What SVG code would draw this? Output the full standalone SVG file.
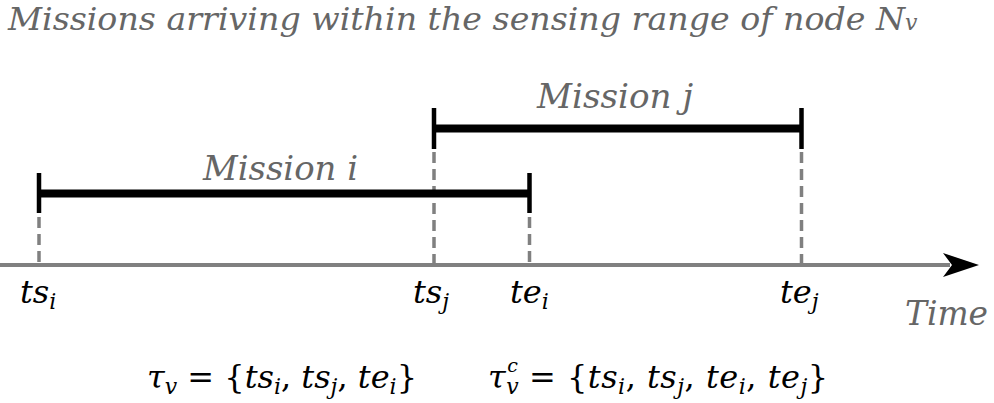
<svg xmlns="http://www.w3.org/2000/svg" width="994" height="403" viewBox="0 0 994 403">
<style>
.lbl{font-family:'DejaVu Serif','Liberation Serif','Noto Serif',serif;font-style:italic;fill:#666666}
.math{font-family:'DejaVu Serif','Liberation Serif','Noto Serif',serif;font-style:italic;fill:#000;font-size:32px}
.rm{font-style:normal}
.sub{font-size:22px}
.sup{font-size:19px}
.bar{stroke:#000;stroke-width:8;fill:none}
.tick{stroke:#000;stroke-width:4.5;fill:none}
.dash{stroke:#808080;stroke-width:3.5;stroke-dasharray:11,6;fill:none}
.axis{stroke:#808080;stroke-width:4;fill:none}
</style>
<rect width="994" height="403" fill="#fff"/>
<text class="lbl" x="8" y="30" font-size="32" textLength="897" lengthAdjust="spacingAndGlyphs">Missions arriving within the sensing range of node N</text>
<text class="lbl" x="905" y="30" font-size="22">v</text>

<g id="connectors">
<line class="axis" x1="0" y1="265" x2="950" y2="265"/>
<path d="M979,265 L943,253 L952,265 L943,277 Z" fill="#000"/>
<line class="dash" x1="39" y1="217" x2="39" y2="265"/>
<line class="dash" x1="529.5" y1="217" x2="529.5" y2="265"/>
<line class="dash" x1="434" y1="152" x2="434" y2="265"/>
<line class="dash" x1="801.5" y1="152" x2="801.5" y2="265"/>
</g>

<g id="mission-i">
<line class="bar" x1="39" y1="193.5" x2="529.5" y2="193.5"/>
<line class="tick" x1="39" y1="173" x2="39" y2="213"/>
<line class="tick" x1="529.5" y1="173" x2="529.5" y2="213"/>
<text class="lbl" x="203" y="180" font-size="34" textLength="155" lengthAdjust="spacingAndGlyphs">Mission i</text>
</g>

<g id="mission-j">
<line class="bar" x1="434" y1="128.5" x2="801.5" y2="128.5"/>
<line class="tick" x1="434" y1="108" x2="434" y2="149"/>
<line class="tick" x1="801.5" y1="108" x2="801.5" y2="149"/>
<text class="lbl" x="537" y="108" font-size="34" textLength="156" lengthAdjust="spacingAndGlyphs">Mission j</text>
</g>

<g id="labels">
<text class="math" x="20" y="303">ts<tspan class="sub" dy="6">i</tspan></text>
<text class="math" x="413" y="303">ts<tspan class="sub" dy="6">j</tspan></text>
<text class="math" x="510" y="303">te<tspan class="sub" dy="6">i</tspan></text>
<text class="math" x="780" y="303">te<tspan class="sub" dy="6">j</tspan></text>
<text class="lbl" x="905" y="325" font-size="34" textLength="83" lengthAdjust="spacingAndGlyphs">Time</text>
<text class="math" x="147" y="388">τ<tspan class="sub" dy="6">v</tspan><tspan class="rm" dy="-6"> = {</tspan>ts<tspan class="sub" dy="6">i</tspan><tspan class="rm" dy="-6">, </tspan>ts<tspan class="sub" dy="6">j</tspan><tspan class="rm" dy="-6">, </tspan>te<tspan class="sub" dy="6">i</tspan><tspan class="rm" dy="-6">}</tspan></text>
<text class="math" x="488" y="388" letter-spacing="0.5">τ<tspan class="sub" dy="6">v</tspan><tspan class="sup" dx="-12" dy="-22">c</tspan><tspan class="rm" dy="16"> = {</tspan>ts<tspan class="sub" dy="6">i</tspan><tspan class="rm" dy="-6">, </tspan>ts<tspan class="sub" dy="6">j</tspan><tspan class="rm" dy="-6">, </tspan>te<tspan class="sub" dy="6">i</tspan><tspan class="rm" dy="-6">, </tspan>te<tspan class="sub" dy="6">j</tspan><tspan class="rm" dy="-6">}</tspan></text>
</g>
</svg>
